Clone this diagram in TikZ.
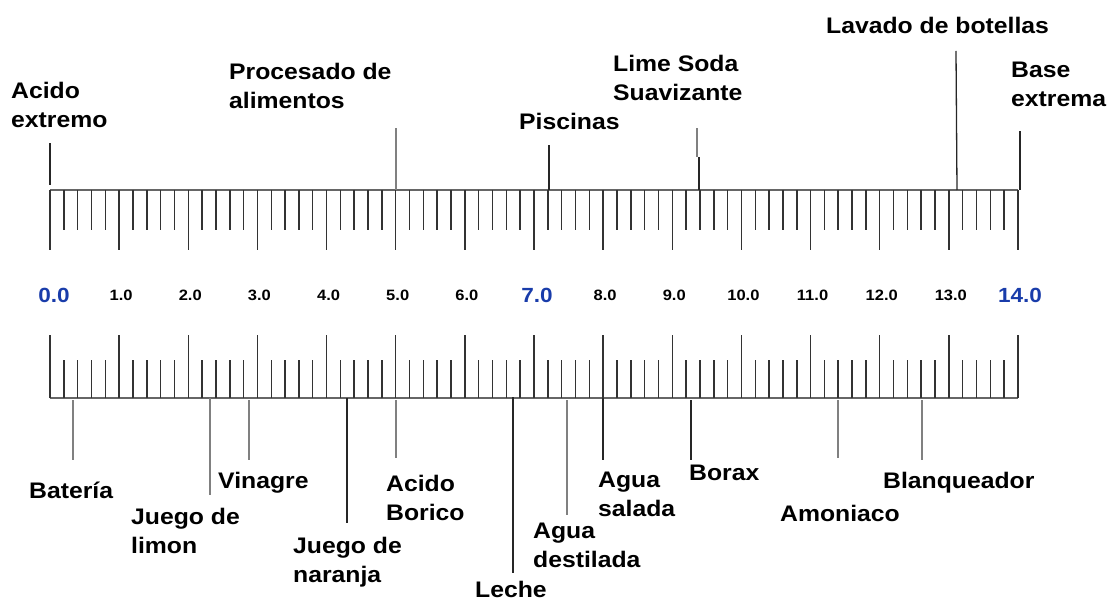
\documentclass[tikz,border=0pt]{standalone}
\usepackage{fontspec}
\setmainfont{Liberation Sans}[FakeStretch=1.1]
\definecolor{phblue}{RGB}{25,60,170}
\tikzset{
  phrule/.style={draw=black!60, line width=1.5pt},
  phtick/.style={draw=black!80, line width=1.5pt},
  leader/.style={draw=black!85, line width=1.3pt},
  leaderg/.style={draw=black!50, line width=1.2pt},
  lbl/.style={font=\fontsize{22.5}{29}\selectfont\bfseries, inner sep=0pt, anchor=north west, align=left},
  num/.style={font=\fontsize{15}{18}\selectfont\bfseries, inner sep=0pt},
  numb/.style={font=\fontsize{20.5}{24}\selectfont\bfseries, text=phblue, inner sep=0pt}
}

\begin{document}
\begin{tikzpicture}[x=1pt, y=-1pt]
    \useasboundingbox (0,0) rectangle (1109,604);
    % the two scales
    \draw[phrule] (50,190) -- (1018,190);
    \draw[phrule] (50,398) -- (1018,398);
    \foreach \i in {0,...,70} {
      \pgfmathsetmacro\xx{50+13.8286*\i}
      \pgfmathtruncatemacro\rr{mod(\i,5)}
      \ifnum\rr=0
        \draw[phtick] (\xx,190) -- (\xx,250);
        \draw[phtick] (\xx,398) -- (\xx,335);
      \else
        \draw[phtick] (\xx,190) -- (\xx,230);
        \draw[phtick] (\xx,398) -- (\xx,360);
      \fi
    }
    % pH values
    \node[numb] (n0) at (54,295) {0.0};
    \foreach \i in {1,2,3,4,5,6,8,9,10,11,12,13}
      \node[num] (n\i) at ({52+69.143*\i},295) {\i.0};
    \node[numb] (n7) at (537,295) {7.0};
    \node[numb] (n14) at (1020,295) {14.0};

    % labels above
    \node[lbl] (acid) at (11,82) {Acido\\extremo};
    \node[lbl] (proc) at (229,63) {Procesado de\\alimentos};
    \node[lbl] (pisc) at (519,113) {Piscinas};
    \node[lbl] (lime) at (613,55) {Lime Soda\\Suavizante};
    \node[lbl] (lav) at (826,17) {Lavado de botellas};
    \node[lbl] (base) at (1011,62) {Base\\extrema};

    % labels below
    \node[lbl] (bat) at (29,482) {Batería};
    \node[lbl] (limon) at (131,508) {Juego de\\limon};
    \node[lbl] (vin) at (218,472) {Vinagre};
    \node[lbl] (naranja) at (293,537) {Juego de\\naranja};
    \node[lbl] (boric) at (386,475) {Acido\\Borico};
    \node[lbl] (leche) at (475,581) {Leche};
    \node[lbl] (dest) at (533,523) {Agua\\destilada};
    \node[lbl] (sal) at (598,472) {Agua\\salada};
    \node[lbl] (borax) at (689,465) {Borax};
    \node[lbl] (amon) at (780,505) {Amoniaco};
    \node[lbl] (blanq) at (883,472) {Blanqueador};

    % leader ends
    \coordinate (acid-r) at (50,185);    \coordinate (acid-t) at (50,143);
    \coordinate (proc-r) at (396,190);   \coordinate (proc-t) at (396,128);
    \coordinate (pisc-r) at (549,190);   \coordinate (pisc-t) at (549,145);
    \coordinate (lime-r) at (699,190);   \coordinate (lime-m) at (699,157);
    \coordinate (lime-k) at (697,157);   \coordinate (lime-t) at (697,128);
    \coordinate (lav-r) at (957,190);    \coordinate (lav-t) at (956,51);
    \coordinate (base-r) at (1020,190);  \coordinate (base-t) at (1020,131);
    \coordinate (bat-r) at (73,400);     \coordinate (bat-t) at (73,460);
    \coordinate (limon-r) at (210,398);  \coordinate (limon-t) at (210,495);
    \coordinate (vin-r) at (249,400);    \coordinate (vin-t) at (249,460);
    \coordinate (naranja-r) at (347,398); \coordinate (naranja-t) at (347,523);
    \coordinate (boric-r) at (396,400);  \coordinate (boric-t) at (396,458);
    \coordinate (leche-r) at (513,397);  \coordinate (leche-t) at (513,573);
    \coordinate (dest-r) at (567,400);   \coordinate (dest-t) at (567,515);
    \coordinate (sal-r) at (603,398);    \coordinate (sal-t) at (603,460);
    \coordinate (borax-r) at (691,400);  \coordinate (borax-t) at (691,460);
    \coordinate (amon-r) at (838,400);   \coordinate (amon-t) at (838,458);
    \coordinate (blanq-r) at (922,400);  \coordinate (blanq-t) at (922,460);

    \draw[leader] (acid-r) -- (acid-t);
    \draw[leaderg] (proc-r) -- (proc-t);
    \draw[leader] (pisc-r) -- (pisc-t);
    \draw[leader] (lime-r) -- (lime-m);
    \draw[leaderg] (lime-k) -- (lime-t);
    \draw[leader] (lav-r) -- (lav-t);
    \draw[leader] (base-r) -- (base-t);
    \draw[leaderg] (bat-r) -- (bat-t);
    \draw[leaderg] (limon-r) -- (limon-t);
    \draw[leaderg] (vin-r) -- (vin-t);
    \draw[leader] (naranja-r) -- (naranja-t);
    \draw[leaderg] (boric-r) -- (boric-t);
    \draw[leader] (leche-r) -- (leche-t);
    \draw[leaderg] (dest-r) -- (dest-t);
    \draw[leader] (sal-r) -- (sal-t);
    \draw[leader] (borax-r) -- (borax-t);
    \draw[leaderg] (amon-r) -- (amon-t);
    \draw[leaderg] (blanq-r) -- (blanq-t);
  \end{tikzpicture}
\end{document}
